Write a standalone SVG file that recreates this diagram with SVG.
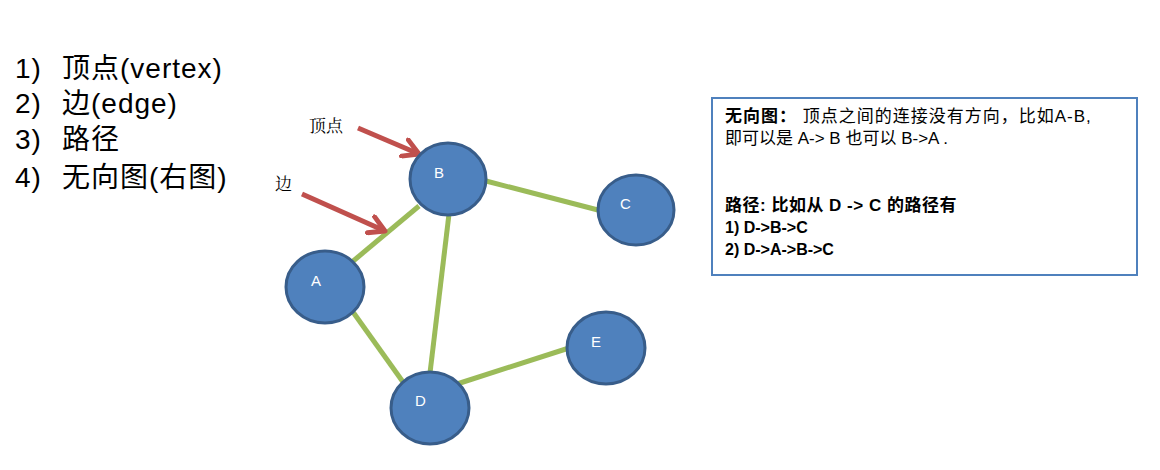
<svg xmlns="http://www.w3.org/2000/svg" width="1160" height="470" viewBox="0 0 1160 470">
<style>
.list{font-family:"Liberation Sans","Noto Sans CJK SC",sans-serif;font-size:28px;letter-spacing:1px;fill:#000}
.node ellipse{fill:#4F81BD;stroke:#385D8A;stroke-width:3}
.node text{font-family:"Liberation Sans",sans-serif;font-size:15px;fill:#fff}
.edge{stroke:#9BBB59;stroke-width:5;fill:none}
.arrow{stroke:#C0504D;stroke-width:5;fill:none;marker-end:url(#ah)}
.note{font-family:"Liberation Serif","Noto Serif CJK SC","Noto Sans CJK SC",serif;font-size:17px;fill:#000}
.box{font-family:"Liberation Sans","Noto Sans CJK SC",sans-serif;font-size:17px;fill:#000}
.b{font-weight:bold}
</style>
<defs>
<marker id="ah" viewBox="0 0 10 10" refX="8" refY="5" markerWidth="4.4" markerHeight="4.4" orient="auto" markerUnits="strokeWidth">
<polyline points="1,1 8,5 1,9" fill="none" stroke="#C0504D" stroke-width="2.2" stroke-linecap="round" stroke-linejoin="round"/>
</marker>
</defs>
<rect width="1160" height="470" fill="#fff"/>
<g id="list">
<text class="list" x="15" y="78">1)</text><text class="list" x="62" y="78">顶点(vertex)</text>
<text class="list" x="15" y="113">2)</text><text class="list" x="62" y="113">边(edge)</text>
<text class="list" x="15" y="149">3)</text><text class="list" x="62" y="149">路径</text>
<text class="list" x="15" y="187">4)</text><text class="list" x="62" y="187">无向图(右图)</text>
</g>
<g id="connectors">
<line class="edge" x1="352" y1="262" x2="419" y2="206"/>
<line class="edge" x1="486" y1="181" x2="598" y2="210"/>
<line class="edge" x1="449" y1="214" x2="430" y2="373"/>
<line class="edge" x1="353" y1="312" x2="403" y2="382"/>
<line class="edge" x1="457" y1="384" x2="569" y2="348"/>
<line class="arrow" x1="358" y1="128" x2="419" y2="154"/>
<line class="arrow" x1="302" y1="194" x2="385" y2="231"/>
</g>
<text class="note" x="309" y="132">顶点</text>
<text class="note" x="275" y="190">边</text>
<g id="B" class="node"><ellipse cx="448" cy="179" rx="38" ry="36"/><text x="434" y="178">B</text></g>
<g id="C" class="node"><ellipse cx="636" cy="210" rx="38" ry="35"/><text x="620" y="209">C</text></g>
<g id="A" class="node"><ellipse cx="325" cy="287" rx="39" ry="36"/><text x="311" y="286">A</text></g>
<g id="D" class="node"><ellipse cx="430" cy="408" rx="39" ry="36"/><text x="415" y="406">D</text></g>
<g id="E" class="node"><ellipse cx="606" cy="348" rx="39" ry="36"/><text x="591" y="347">E</text></g>
<g id="desc">
<rect x="712" y="98" width="425" height="177" fill="#fff" stroke="#4F81BD" stroke-width="2"/>
<text class="box" x="725" y="122" style="letter-spacing:1px"><tspan class="b">无向图：</tspan>  顶点之间的连接没有方向，比如A-B,</text>
<text class="box" x="725" y="144">即可以是 A-&gt; B 也可以 B-&gt;A .</text>
<text class="box b" x="725" y="211" style="letter-spacing:0.5px">路径: 比如从 D -&gt; C 的路径有</text>
<text class="box b" x="725" y="233" style="font-size:16px">1) D-&gt;B-&gt;C</text>
<text class="box b" x="725" y="255" style="font-size:16px">2) D-&gt;A-&gt;B-&gt;C</text>
</g>
</svg>
